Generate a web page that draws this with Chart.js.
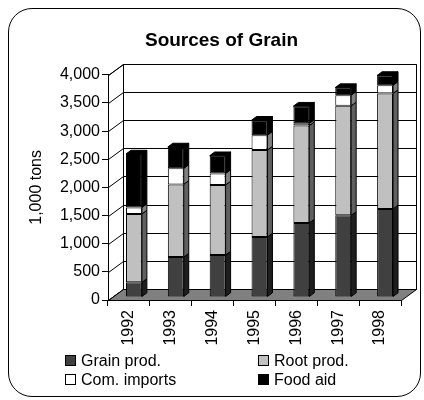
<!DOCTYPE html>
<html lang="en">
<head>
<meta charset="UTF-8">
<title>Sources of Grain</title>
<script src="https://cdn.jsdelivr.net/npm/chart.js"></script>
<style>
    body { margin: 0; background: #fff; font-family: "Liberation Sans", Arial, sans-serif; }
    .wrap { position: relative; width: 424px; height: 400px; }
    .frame { position: absolute; left: 8px; top: 8px; width: 413px; height: 389px; box-sizing: border-box;
             border: 1.5px solid #000; border-radius: 24px; pointer-events: none; }
    .legend { position: absolute; font-size: 16px; line-height: 19px; color: #000; white-space: nowrap; }
    .legend span.box { display: inline-block; width: 9px; height: 9px; border: 1px solid #000;
                       margin-right: 5px; vertical-align: 0px; }
</style>
</head>
<body>
<div class="wrap">
    <canvas id="grain" width="424" height="400"></canvas>
    <div class="frame"></div>
    <div id="legend"></div>
</div>
<script>
// values in 1,000 tons
const years = ['1992', '1993', '1994', '1995', '1996', '1997', '1998'];
const grainProd = [260, 710, 745, 1065, 1315, 1450, 1565];
const rootProd = [1215, 1290, 1245, 1545, 1730, 1945, 2050];
const comImports = [115, 285, 205, 265, 40, 190, 145];
const foodAid = [950, 380, 315, 265, 305, 135, 175];

const seriesNames = ['Grain prod.', 'Root prod.', 'Com. imports', 'Food aid'];
const frontColors = ['#404040', '#c0c0c0', '#ffffff', '#000000'];
const sideColors = ['#1e1e1e', '#606060', '#808080', '#000000'];

// fake 3d: wall depth and bar depth
const WALL_DX = 15, WALL_DY = 11;
const BAR_DX = 5, BAR_DY = 3;
const SIDE_DX = 5, SIDE_DY = 3.7;

Chart.defaults.font.family = '"Liberation Sans", Arial, sans-serif';
Chart.defaults.color = '#000';

function poly(ctx, pts, fill) {
    ctx.beginPath();
    ctx.moveTo(pts[0][0], pts[0][1]);
    for (let i = 1; i < pts.length; i++) ctx.lineTo(pts[i][0], pts[i][1]);
    ctx.closePath();
    if (fill) { ctx.fillStyle = fill; ctx.fill(); }
    ctx.stroke();
}

const box3d = {
    id: 'box3d',
    beforeDatasetsDraw(chart) {
        const { ctx, chartArea: { left, right, top, bottom }, scales: { y } } = chart;
        const l = Math.round(left) + 0.5, r = Math.round(right) + 0.5;
        const t = Math.round(top) + 0.5, b = Math.round(bottom) + 0.5;
        ctx.save();
        ctx.strokeStyle = '#000';
        ctx.lineWidth = 1;
        // left wall and back wall
        poly(ctx, [[l, t], [l + WALL_DX, t - WALL_DY], [l + WALL_DX, b - WALL_DY], [l, b]], '#fff');
        poly(ctx, [[l + WALL_DX, t - WALL_DY], [r + WALL_DX, t - WALL_DY], [r + WALL_DX, b - WALL_DY], [l + WALL_DX, b - WALL_DY]], '#fff');
        // gridlines on both walls
        y.ticks.forEach(tk => {
            const py = Math.round(y.getPixelForValue(tk.value)) + 0.5;
            ctx.beginPath();
            ctx.moveTo(l, py);
            ctx.lineTo(l + WALL_DX, py - WALL_DY);
            ctx.lineTo(r + WALL_DX, py - WALL_DY);
            ctx.stroke();
        });
        // floor
        poly(ctx, [[l, b], [r, b], [r + WALL_DX, b - WALL_DY], [l + WALL_DX, b - WALL_DY]], '#808080');
        ctx.restore();
        // bars stand in the middle of the depth
        ctx.save();
        ctx.translate(BAR_DX, -BAR_DY);
    },
    afterDatasetsDraw(chart) {
        const ctx = chart.ctx;
        ctx.strokeStyle = '#000';
        ctx.lineWidth = 1;
        const n = chart.data.datasets.length;
        for (let i = 0; i < n; i++) {
            chart.getDatasetMeta(i).data.forEach(bar => {
                const xr = bar.x + bar.width / 2;
                poly(ctx, [[xr, bar.y], [xr + SIDE_DX, bar.y - SIDE_DY], [xr + SIDE_DX, bar.base - SIDE_DY], [xr, bar.base]], sideColors[i]);
            });
        }
        chart.getDatasetMeta(n - 1).data.forEach(bar => {
            const xl = bar.x - bar.width / 2, xr = bar.x + bar.width / 2;
            poly(ctx, [[xl, bar.y], [xl + SIDE_DX, bar.y - SIDE_DY], [xr + SIDE_DX, bar.y - SIDE_DY], [xr, bar.y]], '#000');
        });
        ctx.restore();
    }
};

const seriesData = [grainProd, rootProd, comImports, foodAid];

new Chart(document.getElementById('grain'), {
    type: 'bar',
    data: {
        labels: years,
        datasets: seriesData.map((d, i) => ({
            label: seriesNames[i],
            data: d,
            backgroundColor: frontColors[i],
            borderColor: '#000',
            borderWidth: 1,
            borderSkipped: false,
            barPercentage: 0.38,
            categoryPercentage: 1,
            clip: false
        }))
    },
    options: {
        responsive: false,
        animation: false,
        layout: { padding: { left: 42, right: 23, top: 0, bottom: 0 } },
        plugins: {
            legend: { display: false },
            tooltip: { enabled: false },
            title: {
                display: true,
                text: 'Sources of Grain',
                font: { size: 19, weight: 'bold' },
                color: '#000',
                padding: { top: 29, bottom: 23 }
            }
        },
        scales: {
            x: {
                stacked: true,
                grid: { drawOnChartArea: false, tickLength: 6, color: '#000', offset: true },
                border: { color: '#000' },
                ticks: { minRotation: 90, maxRotation: 90, padding: 4, font: { size: 16 }, color: '#000' },
                afterFit: s => { s.height = 100; }
            },
            y: {
                stacked: true,
                min: 0,
                max: 4000,
                grid: { drawOnChartArea: false, tickLength: 6, color: '#000' },
                border: { color: '#000' },
                ticks: {
                    stepSize: 500,
                    padding: 2,
                    font: { size: 16 },
                    color: '#000',
                    callback: v => v.toLocaleString('en-US')
                },
                title: { display: true, text: '1,000 tons', font: { size: 16 }, color: '#000', padding: { top: -15, bottom: 0 } },
                afterFit: s => { s.width = 66; }
            }
        }
    },
    plugins: [box3d]
});

// legend: two columns under the chart
const legendPos = [[65, 351], [258, 351], [65, 370], [258, 370]];
document.getElementById('legend').innerHTML = seriesNames.map((name, k) =>
    `<div class="legend" style="left:${legendPos[k][0]}px;top:${legendPos[k][1]}px">` +
    `<span class="box" style="background:${frontColors[k]}"></span>${name}</div>`
).join('');
</script>
</body>
</html>
